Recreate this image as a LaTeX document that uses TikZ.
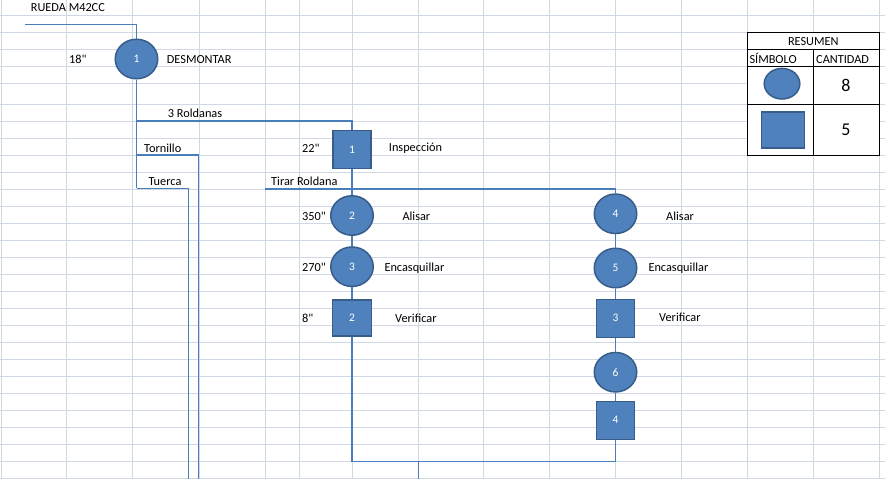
\documentclass[tikz,border=0pt]{standalone}
\usepackage{fontspec}
\setmainfont{Carlito}
\newfontfamily\calib{Carlito}
\usetikzlibrary{shapes.geometric}
\definecolor{gridc}{HTML}{D0D7E5}
\definecolor{shapefill}{HTML}{4F81BD}
\definecolor{shapeedge}{HTML}{385D8A}
\definecolor{linec}{HTML}{4A7EBB}
\tikzset{
  lbl/.style={anchor=base west, inner sep=0pt, font=\calib\fontsize{12.3}{14}\selectfont},
  clbl/.style={anchor=base, inner sep=0pt, font=\calib\fontsize{12.3}{14}\selectfont},
  big/.style={anchor=base, inner sep=0pt, font=\calib\fontsize{18}{20}\selectfont},
  opcirc/.style={ellipse, draw=shapeedge, fill=shapefill, line width=1.5pt, minimum width=42.5pt, minimum height=39.5pt, inner sep=0pt, text=white, font=\calib\fontsize{11.5}{13}\selectfont},
  opsq/.style={rectangle, draw=shapeedge, fill=shapefill, line width=1.5pt, minimum width=38pt, minimum height=38pt, inner sep=0pt, text=white, font=\calib\fontsize{11.5}{13}\selectfont},
  conn/.style={draw=linec, line width=1.2pt},
  tab/.style={draw=black, line width=1pt}
}
\begin{document}
\begin{tikzpicture}[x=1pt,y=-1pt]
\useasboundingbox (0,0) rectangle (885,479);
\fill[white] (0,0) rectangle (885,479);
% grid
\foreach \gx in {1,66.5,132.5,199,265,299,352,418,483.5,549.5,615.5,681.5,747.5,813.5,879.5}
  \draw[gridc, line width=1pt] (\gx,0) -- (\gx,479);
\foreach \gy in {15.7,32.6,49.5,66.4,83.3}
  \draw[gridc, line width=1pt] (0,\gy) -- (885,\gy);
\foreach \k in {0,...,22}
  \draw[gridc, line width=1pt] (0,104.3+17*\k) -- (885,104.3+17*\k);

% shapes
\node[opcirc] (c1) at (136.5,59) {1};
\node[opsq]   (s1) at (352,149.5) {1};
\node[opcirc] (c2) at (352,215.5) {2};
\node[opcirc] (c3) at (352,266.7) {3};
\node[opsq, minimum width=39pt, minimum height=36pt] (s2) at (352,318.2) {2};
\node[opcirc] (c4) at (615.5,213.8) {4};
\node[opcirc] (c5) at (615.5,268) {5};
\node[opsq]   (s3) at (615.5,318.3) {3};
\node[opcirc] (c6) at (615.5,372.2) {6};
\node[opsq]   (s4) at (615.5,420.3) {4};

% connector coordinates
\coordinate (start) at (25,24.5);
\coordinate (jR) at (136.5,121);
\coordinate (jT) at (136.5,155);
\coordinate (jU) at (136.5,188.3);
\coordinate (endT) at (198.7,479);
\coordinate (endU) at (188.7,479);
\coordinate (tr) at (265,189);
\coordinate (b1) at (352,461.3);
\coordinate (b2) at (615.5,461.3);
\coordinate (bm) at (418.3,461.3);
\coordinate (bend) at (418.3,479);

% connectors
\draw[conn] (start) -| (c1.north);
\draw[conn] (c1.south) -- (jU);
\draw[conn] (jR) -| (s1.north);
\draw[conn] (jT) -| (endT);
\draw[conn] (jU) -| (endU);
\draw[conn] (s1.south) -- (c2.north);
\draw[conn] (tr) -| (c4.north);
\draw[conn] (c2.south) -- (c3.north);
\draw[conn] (c3.south) -- (s2.north);
\draw[conn] (s2.south) -- (b1) -- (b2);
\draw[conn] (bm) -- (bend);
\draw[conn] (c4.south) -- (c5.north);
\draw[conn] (c5.south) -- (s3.north);
\draw[conn] (s3.south) -- (c6.north);
\draw[conn] (c6.south) -- (s4.north);
\draw[conn] (s4.south) -- (b2);

% labels
\node[lbl] (tRueda) at (30.7,12) {RUEDA M42CC};
\node[lbl] (t18) at (69,63.3) {18"};
\node[lbl] (tDes) at (166.7,63) {DESMONTAR};
\node[lbl] (tRol) at (167.7,117.3) {3 Roldanas};
\node[lbl] (tTor) at (144,152.3) {Tornillo};
\node[lbl] (tTue) at (148.3,185.3) {Tuerca};
\node[lbl] (tTir) at (271,185.6) {Tirar Roldana};
\node[lbl] (t22) at (302,152.3) {22"};
\node[lbl] (tIns) at (388.7,151.3) {Inspección};
\node[lbl] (t350) at (302,220.3) {350"};
\node[lbl] (tAl1) at (402.3,220.3) {Alisar};
\node[lbl] (t270) at (302,271) {270"};
\node[lbl] (tEn1) at (384.3,271) {Encasquillar};
\node[lbl] (t8) at (302,322.3) {8"};
\node[lbl] (tVe1) at (395,322.3) {Verificar};
\node[lbl] (tAl2) at (666,220) {Alisar};
\node[lbl] (tEn2) at (648.3,271.7) {Encasquillar};
\node[lbl] (tVe2) at (659,321.7) {Verificar};

% summary table
\fill[white] (747.5,32.6) rectangle (879,155.3);
\draw[tab] (747.5,32.6) rectangle (879,155.3);
\draw[tab] (747.5,49.5) -- (879,49.5);
\draw[tab] (747.5,66.4) -- (879,66.4);
\draw[tab] (747.5,104.3) -- (879,104.3);
\draw[tab] (813.5,49.5) -- (813.5,155.3);
\node[clbl] (tRes) at (813.3,45) {RESUMEN};
\node[lbl] (tSim) at (749.3,63) {SÍMBOLO};
\node[lbl] (tCan) at (816,63) {CANTIDAD};
\node[opcirc, minimum width=35.6pt, minimum height=30.6pt] (kc) at (782,83.7) {};
\node[opsq, minimum width=43pt, minimum height=36.3pt] (ks) at (783,130) {};
\node[big] (n8) at (846,91.7) {8};
\node[big] (n5) at (846,135.7) {5};
\end{tikzpicture}
\end{document}
